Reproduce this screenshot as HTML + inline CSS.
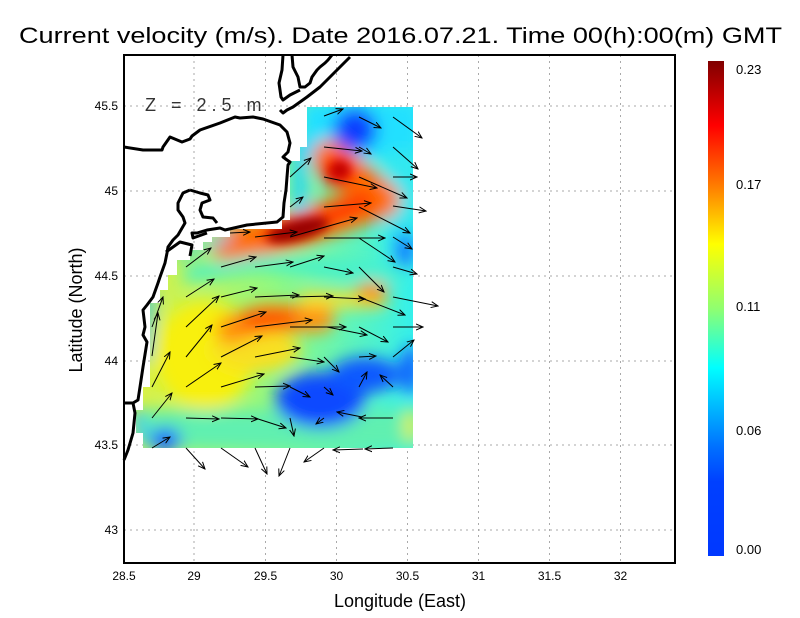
<!DOCTYPE html>
<html><head><meta charset="utf-8"><style>html,body{margin:0;padding:0;background:#fff}svg{display:block}</style></head>
<body>
<svg width="800" height="618" viewBox="0 0 800 618" xmlns="http://www.w3.org/2000/svg" font-family="Liberation Sans, sans-serif">
<defs>
<clipPath id="dom"><path d="M307,107 L413,107 L413,448 L143,448 L143,433 L136,433 L136,410 L143,410 L143,387 L150,387 L150,303 L160,303 L160,290 L168,290 L168,275 L177,275 L177,260 L190,260 L190,250 L203,250 L203,242 L212,242 L212,237 L230,237 L230,229 L282,229 L282,220 L290,220 L290,161 L300,161 L300,147 L307,147 Z"/></clipPath>
<filter id="bl" x="-50%" y="-50%" width="200%" height="200%"><feGaussianBlur stdDeviation="8"/></filter>
<filter id="bl2" x="-50%" y="-50%" width="200%" height="200%"><feGaussianBlur stdDeviation="5"/></filter>
<linearGradient id="base" x1="0" y1="0" x2="1" y2="0"><stop offset="0" stop-color="#e0f040"/><stop offset="0.5" stop-color="#90f880"/><stop offset="1" stop-color="#30f0f0"/></linearGradient>
<linearGradient id="cb" x1="0" y1="0" x2="0" y2="1">
<stop offset="0" stop-color="#800000"/><stop offset="0.13" stop-color="#ff0000"/><stop offset="0.25" stop-color="#ff7a00"/><stop offset="0.37" stop-color="#ffff00"/><stop offset="0.5" stop-color="#90ff70"/><stop offset="0.62" stop-color="#00ffff"/><stop offset="0.78" stop-color="#0070ff"/><stop offset="0.85" stop-color="#0040ff"/><stop offset="1" stop-color="#0038ff"/></linearGradient>
<marker id="ah" markerWidth="8" markerHeight="8" refX="7" refY="4" orient="auto" markerUnits="userSpaceOnUse"><path d="M0,1 L7,4 L0,7" fill="none" stroke="#000" stroke-width="1"/></marker>
</defs>
<text x="19" y="43" font-size="22" textLength="763" lengthAdjust="spacingAndGlyphs">Current velocity (m/s). Date 2016.07.21. Time 00(h):00(m) GMT</text>
<g stroke="#aaa" stroke-dasharray="2,4" stroke-width="1">
<line x1="194" y1="55" x2="194" y2="563"/><line x1="265.5" y1="55" x2="265.5" y2="563"/><line x1="336.5" y1="55" x2="336.5" y2="563"/><line x1="407.5" y1="55" x2="407.5" y2="563"/><line x1="478.5" y1="55" x2="478.5" y2="563"/><line x1="549.5" y1="55" x2="549.5" y2="563"/><line x1="620.5" y1="55" x2="620.5" y2="563"/>
<line x1="124" y1="106" x2="675" y2="106"/><line x1="124" y1="191" x2="675" y2="191"/><line x1="124" y1="276" x2="675" y2="276"/><line x1="124" y1="361" x2="675" y2="361"/><line x1="124" y1="445" x2="675" y2="445"/><line x1="124" y1="530" x2="675" y2="530"/>
</g>
<g clip-path="url(#dom)">
<rect x="130" y="100" width="290" height="360" fill="url(#base)"/>
<g filter="url(#bl)">
<rect x="300" y="100" width="120" height="60" fill="#20e0ff"/>
<rect x="385" y="150" width="35" height="110" fill="#30e8f0"/>
<ellipse cx="205" cy="355" rx="50" ry="55" fill="#f8f010"/>
<ellipse cx="255" cy="350" rx="45" ry="22" fill="#f8e020"/>
<rect x="140" y="410" width="280" height="40" fill="#60f0b0"/>
<path d="M230,330 L265,318 L320,318" stroke="#ff9010" stroke-width="28" fill="none" stroke-linecap="round"/>
<ellipse cx="268" cy="320" rx="30" ry="10" fill="#ff4a00"/>
<path d="M300,300 L385,300" stroke="#f8e030" stroke-width="16" fill="none"/>
<ellipse cx="372" cy="292" rx="16" ry="10" fill="#ff9010"/>
<path d="M215,242 L255,236" stroke="#ffa000" stroke-width="16" fill="none"/>
<path d="M230,245 L300,228 L382,200 L330,158" stroke="#ff7000" stroke-width="36" fill="none" stroke-linejoin="round" stroke-linecap="round"/>
<path d="M270,235 L320,220 L365,200" stroke="#ff3000" stroke-width="18" fill="none" stroke-linecap="round"/>
<ellipse cx="338" cy="172" rx="18" ry="15" fill="#ff1000"/>
<ellipse cx="355" cy="130" rx="22" ry="22" fill="#0840ff"/>
<ellipse cx="320" cy="400" rx="45" ry="28" fill="#0848ff"/>
<ellipse cx="365" cy="375" rx="35" ry="18" fill="#0858ff"/>
<ellipse cx="410" cy="370" rx="10" ry="25" fill="#1060ff"/>
<ellipse cx="165" cy="440" rx="16" ry="12" fill="#0860ff"/>
<ellipse cx="405" cy="250" rx="10" ry="18" fill="#1070ff"/>
<path d="M185,275 L260,262 L330,268 L400,275" stroke="#40f0d0" stroke-width="14" fill="none"/>
<path d="M150,290 L145,360" stroke="#20c0ff" stroke-width="10" fill="none"/>
<path d="M136,410 L140,440" stroke="#20c0ff" stroke-width="10" fill="none"/>
<path d="M300,140 L300,215" stroke="#20d0ff" stroke-width="14" fill="none"/>
<path d="M175,255 L205,245 L230,236" stroke="#20d8f8" stroke-width="8" fill="none"/>
<ellipse cx="412" cy="425" rx="8" ry="18" fill="#e0f040"/>
</g>
<g filter="url(#bl2)">
<ellipse cx="298" cy="230" rx="32" ry="10" fill="#980000" transform="rotate(-15 298 230)"/>
<ellipse cx="340" cy="170" rx="10" ry="9" fill="#c00000"/>
</g>
</g>
<g fill="none" stroke="#000" stroke-width="3" stroke-linejoin="round">
<path d="M124,147 L143,150 L162,150 L163,147 L170,137 L182,142 L190,139 L192,136 L200,130 L220,123 L235,117 L240,118 L253,117 L263,119 L280,125 L287,132 L290,143 L288,152 L283,157 L287,160 L290,162 L288,165 L287,177 L286,190 L284,203 L283,217 L277,222 L247,225 L225,230 L220,228 L207,230 L197,233 L192,233 L193,238 L207,233"/>
<path d="M190,190 L183,193 L178,203 L178,210 L183,217 L185,223 L178,235 L173,240 L168,247 L167,253 L165,263 L160,277 L158,283 L153,297 L147,305 L143,310 L145,327 L143,335 L147,342 L143,367 L140,387 L138,400 L133,403 L135,413 L133,433 L128,450 L124,460"/>
<path d="M124,403 L133,403"/>
<path d="M190,190 L200,193 L208,195 L210,200 L202,203 L200,210 L203,217 L213,218 L217,223"/>
<path d="M166,252 L180,242 L192,245 L190,256"/>
<path d="M283,55 L282,70 L279,83 L281,97 L283,100 L290,95 L300,90"/>
<path d="M280,110 L283,113 L287,110 L293,107 L300,102 L307,97 L320,87 L337,70 L350,57"/>
<path d="M292,55 L293,67 L298,77 L300,87 L305,87 L310,83 L312,77 L317,70 L320,67 L325,63 L328,60 L332,55"/>
</g>
<text x="145" y="111" font-size="18" fill="#333" letter-spacing="5">Z = 2.5 m</text>
<g stroke="#000" stroke-width="1" marker-end="url(#ah)">
<line x1="324" y1="116" x2="343" y2="109"/><line x1="359" y1="117" x2="381" y2="128"/><line x1="393" y1="117" x2="422" y2="138"/>
<line x1="324" y1="147" x2="362" y2="151"/><line x1="359" y1="147" x2="371" y2="154"/><line x1="393" y1="147" x2="418" y2="169"/>
<line x1="290" y1="177" x2="311" y2="158"/><line x1="324" y1="177" x2="377" y2="188"/><line x1="359" y1="177" x2="407" y2="198"/><line x1="393" y1="177" x2="417" y2="177"/>
<line x1="290" y1="207" x2="303" y2="197"/><line x1="324" y1="207" x2="371" y2="203"/><line x1="359" y1="207" x2="410" y2="233"/><line x1="393" y1="206" x2="426" y2="211"/>
<line x1="230" y1="233" x2="250" y2="232"/><line x1="255" y1="237" x2="297" y2="232"/><line x1="290" y1="237" x2="357" y2="218"/><line x1="324" y1="238" x2="385" y2="238"/><line x1="359" y1="238" x2="395" y2="262"/><line x1="393" y1="237" x2="412" y2="249"/>
<line x1="186" y1="267" x2="211" y2="248"/><line x1="221" y1="267" x2="256" y2="257"/><line x1="255" y1="267" x2="293" y2="262"/><line x1="290" y1="267" x2="324" y2="256"/><line x1="324" y1="267" x2="353" y2="273"/><line x1="359" y1="267" x2="384" y2="292"/><line x1="393" y1="267" x2="417" y2="274"/>
<line x1="186" y1="297" x2="214" y2="279"/><line x1="221" y1="297" x2="257" y2="288"/><line x1="255" y1="297" x2="299" y2="295"/><line x1="290" y1="297" x2="333" y2="296"/><line x1="324" y1="297" x2="365" y2="299"/><line x1="359" y1="297" x2="405" y2="315"/><line x1="393" y1="297" x2="438" y2="306"/>
<line x1="152" y1="327" x2="163" y2="297"/><line x1="186" y1="327" x2="219" y2="296"/><line x1="221" y1="327" x2="266" y2="312"/><line x1="255" y1="327" x2="312" y2="320"/><line x1="290" y1="327" x2="346" y2="327"/><line x1="327" y1="327" x2="367" y2="335"/><line x1="359" y1="327" x2="388" y2="342"/><line x1="393" y1="327" x2="423" y2="327"/>
<line x1="152" y1="356" x2="158" y2="313"/><line x1="186" y1="357" x2="212" y2="325"/><line x1="221" y1="357" x2="262" y2="336"/><line x1="255" y1="357" x2="300" y2="348"/><line x1="290" y1="357" x2="324" y2="362"/><line x1="324" y1="357" x2="339" y2="372"/><line x1="359" y1="357" x2="376" y2="356"/><line x1="393" y1="357" x2="414" y2="340"/>
<line x1="152" y1="387" x2="170" y2="352"/><line x1="186" y1="387" x2="221" y2="363"/><line x1="221" y1="387" x2="264" y2="374"/><line x1="255" y1="387" x2="290" y2="386"/><line x1="290" y1="387" x2="310" y2="397"/><line x1="324" y1="387" x2="333" y2="395"/><line x1="359" y1="387" x2="367" y2="372"/><line x1="393" y1="387" x2="380" y2="375"/>
<line x1="152" y1="418" x2="172" y2="393"/><line x1="186" y1="418" x2="219" y2="419"/><line x1="221" y1="418" x2="258" y2="419"/><line x1="255" y1="418" x2="286" y2="428"/><line x1="290" y1="418" x2="294" y2="436"/><line x1="324" y1="418" x2="316" y2="424"/><line x1="393" y1="418" x2="359" y2="418"/><line x1="362" y1="417" x2="337" y2="412"/>
<line x1="152" y1="448" x2="170" y2="437"/><line x1="186" y1="448" x2="205" y2="469"/><line x1="221" y1="448" x2="248" y2="467"/><line x1="255" y1="448" x2="267" y2="474"/><line x1="290" y1="448" x2="279" y2="476"/><line x1="324" y1="448" x2="304" y2="462"/><line x1="393" y1="448" x2="365" y2="449"/><line x1="363" y1="449" x2="333" y2="450"/>
</g>
<rect x="124" y="55" width="551" height="508" fill="none" stroke="#000" stroke-width="2"/>
<g font-size="12" text-anchor="middle">
<text x="124" y="580">28.5</text><text x="194" y="580">29</text><text x="265.5" y="580">29.5</text><text x="336.5" y="580">30</text><text x="407.5" y="580">30.5</text><text x="478.5" y="580">31</text><text x="549.5" y="580">31.5</text><text x="620.5" y="580">32</text>
</g>
<g font-size="12" text-anchor="end">
<text x="118" y="110">45.5</text><text x="118" y="195">45</text><text x="118" y="280">44.5</text><text x="118" y="365">44</text><text x="118" y="449">43.5</text><text x="118" y="534">43</text>
</g>
<text x="400" y="607" font-size="18" text-anchor="middle">Longitude (East)</text>
<text transform="translate(82,310) rotate(-90)" font-size="18" text-anchor="middle">Latitude (North)</text>
<rect x="708" y="61" width="16" height="495" fill="url(#cb)"/>
<g font-size="13">
<text x="736" y="74">0.23</text><text x="736" y="189">0.17</text><text x="736" y="311">0.11</text><text x="736" y="435">0.06</text><text x="736" y="554">0.00</text>
</g>
</svg>
</body></html>
